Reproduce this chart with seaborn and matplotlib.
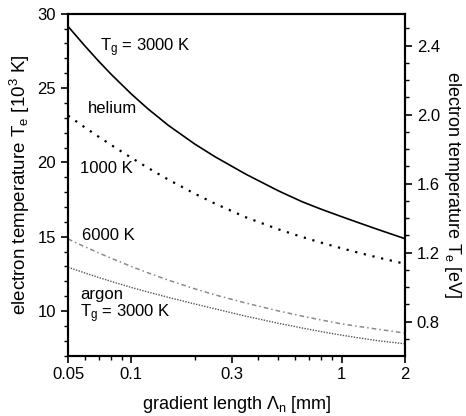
import numpy as np
import pandas as pd
import matplotlib
matplotlib.use("Agg")
import matplotlib.pyplot as plt
from matplotlib.ticker import FixedLocator, NullFormatter, MultipleLocator
import seaborn as sns

# gradient length [mm]
x_mm = [0.05, 0.06, 0.07, 0.08, 0.1, 0.12, 0.15, 0.2, 0.25, 0.35, 0.5,
        0.65, 0.8, 1.0, 1.2, 1.5, 2.0]
# electron temperature [10^3 K]
he_3000 = [29.15, 27.85, 26.80, 25.94, 24.60, 23.60, 22.49, 21.24, 20.38, 19.21, 18.09,
           17.35, 16.85, 16.35, 15.95, 15.47, 14.87]
he_1000 = [23.15, 22.36, 21.72, 21.18, 20.31, 19.63, 18.84, 17.9, 17.23, 16.31, 15.5,
           14.98, 14.6, 14.22, 13.93, 13.59, 13.18]
ar_6000 = [14.85, 14.33, 13.91, 13.56, 13.0, 12.57, 12.08, 11.5, 11.09, 10.54, 10.01,
           9.66, 9.4, 9.14, 8.97, 8.77, 8.52]
ar_3000 = [12.95, 12.57, 12.26, 12.0, 11.59, 11.28, 10.92, 10.48, 10.15, 9.66, 9.18,
           8.86, 8.62, 8.38, 8.2, 8.0, 7.8]

series = {"He 3000 K": he_3000, "He 1000 K": he_1000,
          "Ar 6000 K": ar_6000, "Ar 3000 K": ar_3000}
rows = []
for name, vals in series.items():
    for xv, yv in zip(x_mm, vals):
        rows.append({"x": xv, "y": yv, "series": name})
df = pd.DataFrame(rows)

sns.set_style("ticks")
plt.rcParams["font.family"] = ["Liberation Sans", "DejaVu Sans"]
plt.rcParams["mathtext.fontset"] = "custom"
plt.rcParams["mathtext.rm"] = "Liberation Sans"
plt.rcParams["mathtext.it"] = "Liberation Sans"
plt.rcParams["mathtext.default"] = "regular"
for key in ["text.color", "axes.labelcolor", "xtick.color", "ytick.color", "axes.edgecolor"]:
    plt.rcParams[key] = "black"

fig = plt.figure(figsize=(4.66, 4.16), dpi=100)
ax = fig.add_axes([0.146, 0.145, 0.723, 0.822])

styles = {
    "He 3000 K": dict(color="black", lw=1.2, ls="-"),
    "He 1000 K": dict(color="black", lw=1.6, ls=(0, (1, 3))),
    "Ar 6000 K": dict(color="#8a8a8a", lw=1.1, ls=(0, (3, 2, 1, 2))),
    "Ar 3000 K": dict(color="#555555", lw=1.0, ls=(0, (1, 1))),
}
for name in series:
    sub = df[df["series"] == name]
    sns.lineplot(data=sub, x="x", y="y", ax=ax, legend=False, **styles[name])

ax.set_xscale("log")
ax.set_xlim(0.05, 2)
ax.set_ylim(7, 30)

ax.xaxis.set_major_locator(FixedLocator([0.05, 0.1, 0.3, 1, 2]))
ax.set_xticklabels(["0.05", "0.1", "0.3", "1", "2"])
ax.xaxis.set_minor_locator(FixedLocator([0.06, 0.07, 0.08, 0.09, 0.2, 0.4, 0.5, 0.6, 0.7, 0.8, 0.9]))
ax.xaxis.set_minor_formatter(NullFormatter())
ax.yaxis.set_major_locator(FixedLocator([10, 15, 20, 25, 30]))
ax.yaxis.set_minor_locator(MultipleLocator(1))

for s in ax.spines.values():
    s.set_linewidth(1.5)
ax.tick_params(which="major", length=5, width=1.2, labelsize=12, direction="out")
ax.tick_params(which="minor", length=3, width=1.0, direction="out")

ax.set_xlabel("gradient length $\\Lambda_n$ [mm]", fontsize=13, labelpad=8)
ax.set_ylabel("electron temperature $T_e$ [10$^3$ K]", fontsize=13.5, labelpad=4)

ax2 = ax.twinx()
k_per_ev = 11.6045
ax2.set_ylim(7 / k_per_ev, 30 / k_per_ev)
ax2.yaxis.set_major_locator(FixedLocator([0.8, 1.2, 1.6, 2.0, 2.4]))
ax2.yaxis.set_minor_locator(MultipleLocator(0.1))
ax2.tick_params(which="major", length=5, width=1.2, labelsize=12, direction="out")
ax2.tick_params(which="minor", length=3, width=1.0, direction="out")
for s in ax2.spines.values():
    s.set_linewidth(1.5)
ax2.set_ylabel("electron temperature $T_e$ [eV]", fontsize=13, rotation=270, labelpad=17)

fs = 12
ax.text(0.071, 27.7, "$T_g$ = 3000 K", fontsize=fs, va="center")
ax.text(0.062, 23.6, "helium", fontsize=fs, va="center")
ax.text(0.057, 19.6, "1000 K", fontsize=fs, va="center")
ax.text(0.058, 15.1, "6000 K", fontsize=fs, va="center")
ax.text(0.057, 11.1, "argon", fontsize=fs, va="center")
ax.text(0.057, 9.8, "$T_g$ = 3000 K", fontsize=fs, va="center")

fig.savefig("out.png", dpi=100)
